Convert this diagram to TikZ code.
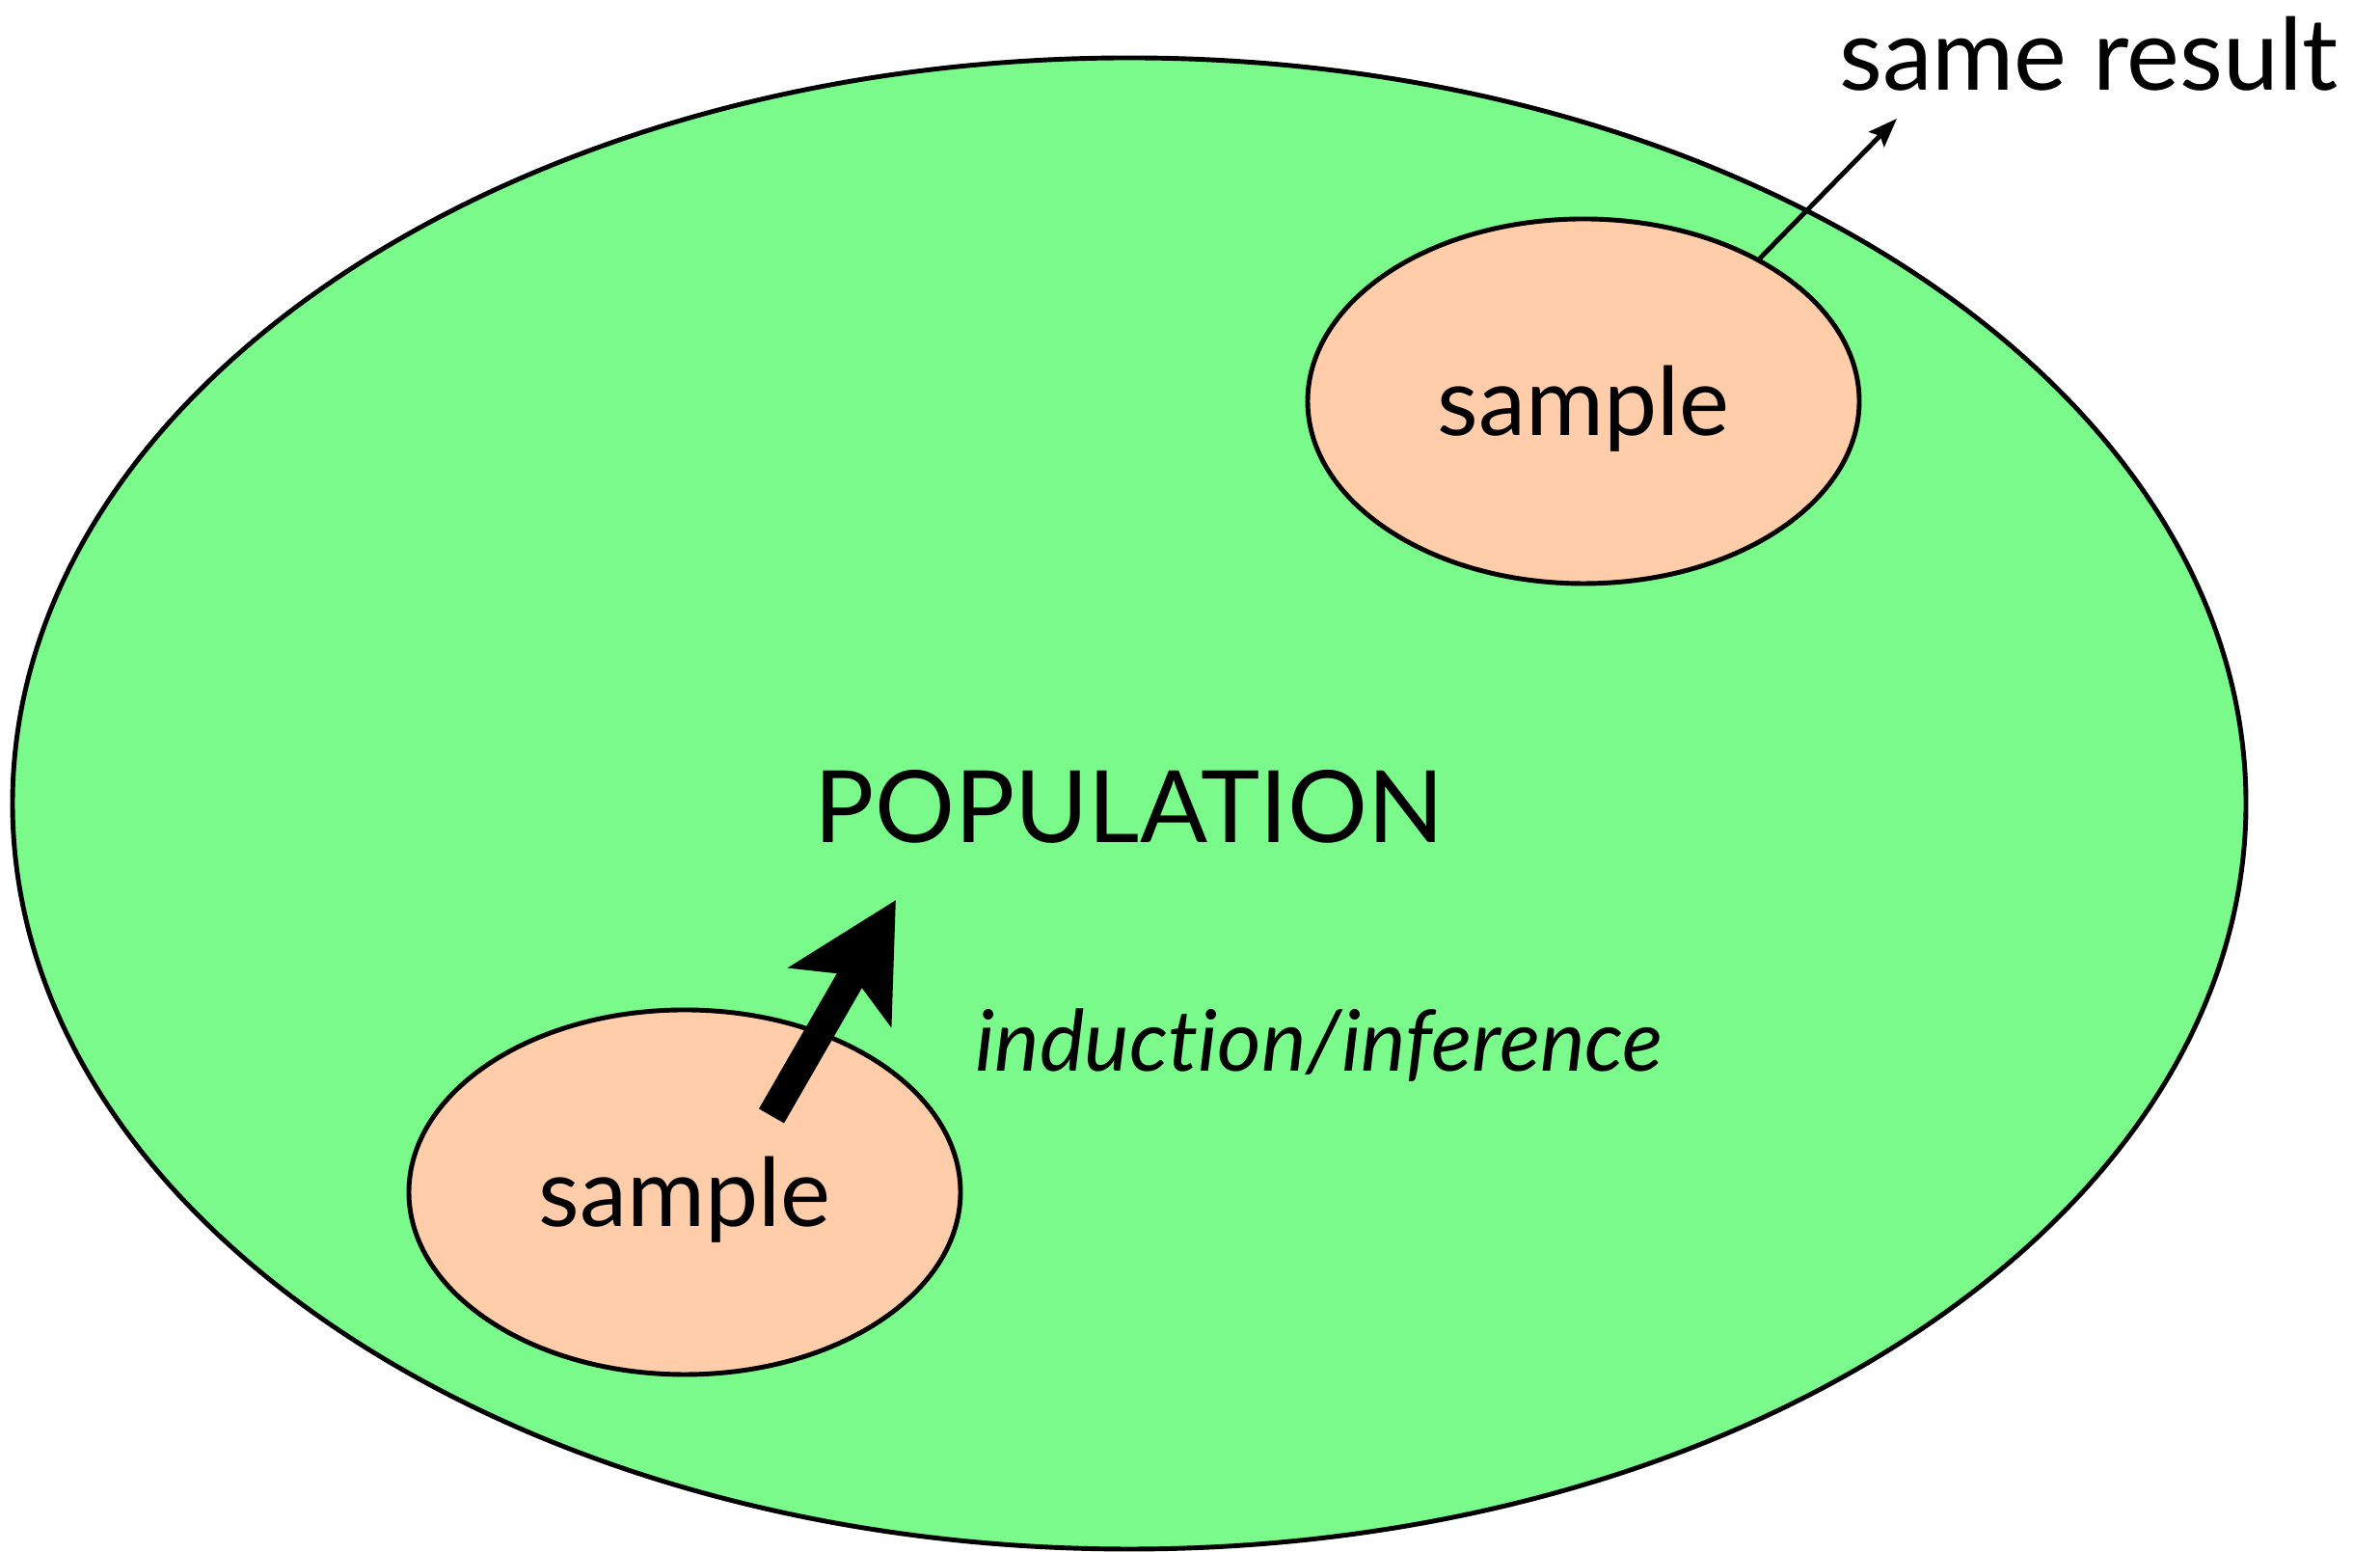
\documentclass[tikz,border=0pt]{standalone}
\usepackage{fontspec}
\setmainfont[Ligatures=CommonOff]{Lato}
\usetikzlibrary{arrows.meta,shapes.geometric}
\definecolor{popgreen}{RGB}{122,250,138}
\definecolor{samppeach}{RGB}{255,205,170}
\tikzset{
  samp/.style={draw,ellipse,line width=1.4pt,fill=samppeach,minimum width=5.72cm,minimum height=3.78cm,inner sep=0pt,text height=26pt,text depth=5.6pt},
  lbl/.style={font=\fontsize{28}{34}\selectfont},
  biglbl/.style={font=\fontsize{29.5}{35}\selectfont},
}
\begin{document}
\begin{tikzpicture}
\useasboundingbox (0,0) rectangle (24.68,16.09);

\node[draw,ellipse,line width=1.4pt,fill=popgreen,minimum width=23.16cm,minimum height=15.46cm,inner sep=0pt] (pop) at (11.71,7.76) {};

\node[samp,lbl] (s1) at (7.10,3.73) {sample};
\node[samp,lbl] (s2) at (16.42,11.93) {sample};

\node[biglbl,anchor=base] (popl) at (11.71,7.35) {POPULATION};
\node[font=\fontsize{25}{30}\selectfont\itshape,anchor=base] (ind) at (13.68,4.98) {induction/inference};
\node[biglbl,anchor=base] (same) at (21.66,15.15) {same result};

\coordinate (tail) at (8.00,4.52);
\coordinate (tip) at (9.29,6.76);
\coordinate (res) at (19.67,14.86);

\draw[line width=0.3cm,-{Stealth[length=1.15cm,width=1.2cm,inset=0.25cm]}] (tail) -- (tip);
\draw[line width=1.4pt,-{Stealth[length=0.3cm,width=0.22cm,inset=0.05cm]}] (s2.39) -- (res);
\end{tikzpicture}
\end{document}
